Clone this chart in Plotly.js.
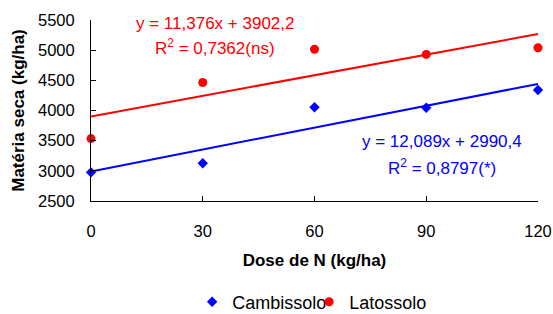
<!DOCTYPE html>
<html><head><meta charset="utf-8">
<script src="https://cdn.plot.ly/plotly-3.0.1.min.js"></script>
<style>html,body{margin:0;padding:0;background:#fff}#c{width:553px;height:314px}</style>
</head><body><div id="c"></div>
<script>
const doses = [0, 30, 60, 90, 120];
const cambissolo = [2975, 3125, 4055, 4045, 4340];
const latossolo = [3535, 4465, 5015, 4930, 5040];
const seriesNames = ['Cambissolo', 'Latossolo'];
const camCoef = {a: 12.089, b: 2990.4};
const latCoef = {a: 11.376, b: 3902.2};
const camLabel = ['y = 12,089x + 2990,4', 'R<sup>2</sup> = 0,8797(*)'];
const latLabel = ['y = 11,376x + 3902,2', 'R<sup>2</sup> = 0,7362(ns)'];
const xTicks = [0, 30, 60, 90, 120];

const xEnds = [doses[0], doses[doses.length-1]];
const font = 'Liberation Sans, Arial, sans-serif';

const traces = [
  {x: xEnds, y: xEnds.map(v => camCoef.a*v + camCoef.b), mode: 'lines', line: {color: '#0000FF', width: 2}, showlegend: false, hoverinfo: 'skip', cliponaxis: false},
  {x: xEnds, y: xEnds.map(v => latCoef.a*v + latCoef.b), mode: 'lines', line: {color: '#FF0000', width: 2}, showlegend: false, hoverinfo: 'skip', cliponaxis: false},
  {x: doses, y: cambissolo, name: seriesNames[0], mode: 'markers', marker: {symbol: 'diamond', size: 8, color: '#0000FF'}, cliponaxis: false},
  {x: doses, y: latossolo, name: seriesNames[1], mode: 'markers', marker: {symbol: 'circle', size: 9, color: '#FF0000'}, cliponaxis: false}
];

const layout = {
  width: 553, height: 314,
  margin: {l: 91, r: 15, t: 20, b: 113, autoexpand: false},
  paper_bgcolor: '#fff', plot_bgcolor: '#fff',
  font: {family: font, size: 16, color: '#000'},
  showlegend: true,
  legend: {orientation: 'h', xref: 'container', yref: 'container', x: 0.559, xanchor: 'center', y: 0.038, yanchor: 'middle',
    font: {size: 18, family: font}, itemwidth: 30, entrywidth: 72, tracegroupgap: 0},
  xaxis: {range: [0, 120], tickvals: xTicks, ticktext: xTicks.map(String), ticks: 'inside', ticklen: 5, tickcolor: '#000',
    showline: true, linecolor: '#000', linewidth: 1, showgrid: false, zeroline: false, ticklabelstandoff: 15,
    tickfont: {size: 16.5}, title: {text: '<b>Dose de N (kg/ha)</b>', font: {size: 17}, standoff: 15}},
  yaxis: {range: [2500, 5500], dtick: 500, tick0: 2500, ticks: 'inside', ticklen: 5, tickcolor: '#000',
    showline: true, linecolor: '#000', linewidth: 1, showgrid: false, zeroline: false, ticklabelstandoff: 12,
    tickfont: {size: 16.5}, title: {text: '<b>Matéria seca (kg/ha)</b>', font: {size: 17}, standoff: 9}},
  annotations: [
    {x: 33.4, y: 5435, xref: 'x', yref: 'y', text: latLabel[0], showarrow: false, font: {color: '#FF0000', size: 17}},
    {x: 33.4, y: 5050, xref: 'x', yref: 'y', text: latLabel[1], showarrow: false, font: {color: '#FF0000', size: 17}},
    {x: 94.2, y: 3492, xref: 'x', yref: 'y', text: camLabel[0], showarrow: false, font: {color: '#0000FF', size: 17}},
    {x: 94.2, y: 3066, xref: 'x', yref: 'y', text: camLabel[1], showarrow: false, font: {color: '#0000FF', size: 17}}
  ]
};
Plotly.newPlot('c', traces, layout, {staticPlot: true, displayModeBar: false});
</script></body></html>
